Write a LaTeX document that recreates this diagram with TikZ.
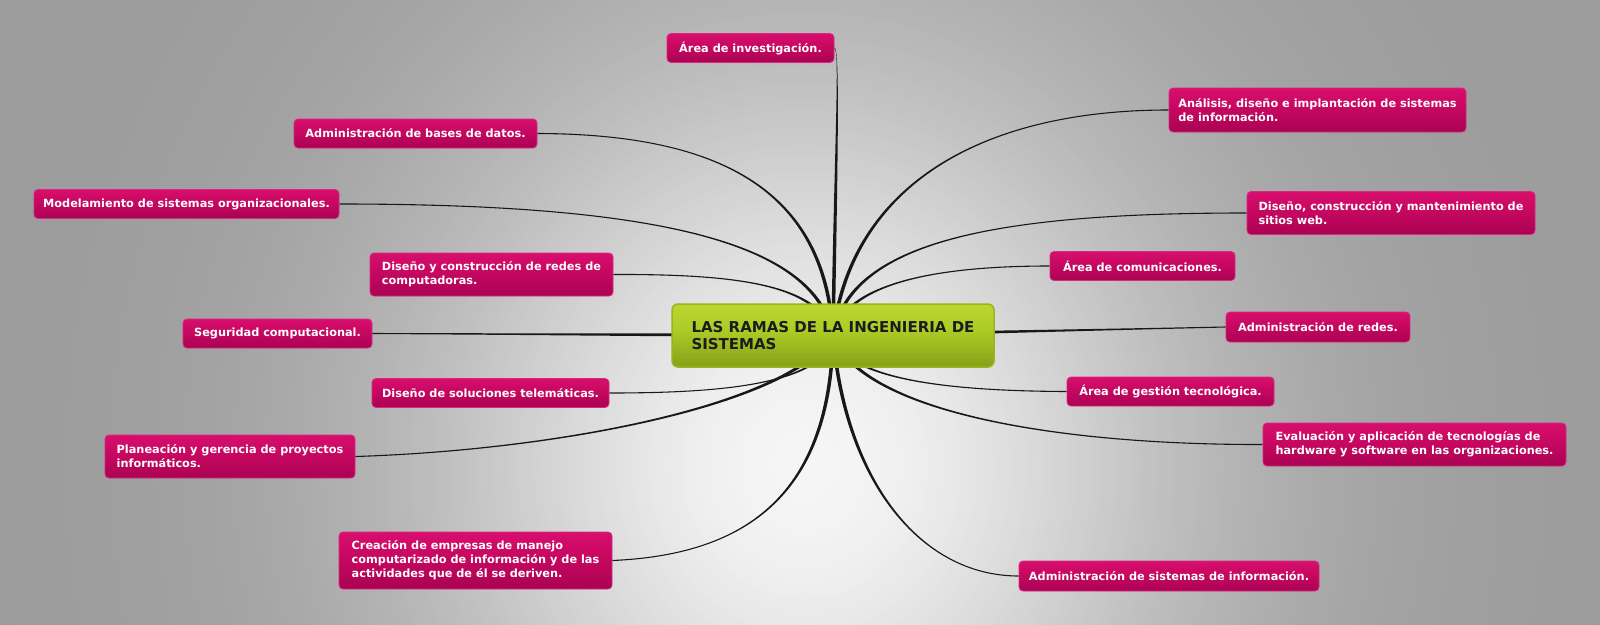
\documentclass[tikz,border=0pt]{standalone}
\usepackage{fontspec}
\setmainfont{DejaVu Sans}
\usetikzlibrary{calc}
\pgfdeclarelayer{bg}
\pgfdeclarelayer{edges}
\pgfsetlayers{bg,edges,main}

\definecolor{bgG}{RGB}{156,156,156}

\definecolor{pinktop}{RGB}{236,22,124}
\definecolor{pinkmid}{RGB}{200,8,98}
\definecolor{pinkdark}{RGB}{160,0,78}
\definecolor{pinkbot}{RGB}{212,22,110}
\definecolor{pinkborder}{RGB}{216,40,128}

\definecolor{gtop}{RGB}{204,226,58}
\definecolor{gmid}{RGB}{174,204,38}
\definecolor{gdark}{RGB}{126,150,22}
\definecolor{gbot}{RGB}{184,212,44}
\definecolor{gborder}{RGB}{150,182,30}
\definecolor{conncol}{RGB}{24,24,24}
\definecolor{ctext}{RGB}{28,28,28}

\pgfdeclareverticalshading{pinkgrad}{100bp}{%
  color(0bp)=(pinkbot); color(14bp)=(pinkdark); color(55bp)=(pinkmid); color(100bp)=(pinktop)}
\pgfdeclareverticalshading{greengrad}{100bp}{%
  color(0bp)=(gbot); color(18bp)=(gdark); color(55bp)=(gmid); color(100bp)=(gtop)}

\tikzset{
  pk/.style={rectangle, rounded corners=4pt, draw=pinkborder, line width=0.8pt,
    shading=pinkgrad, text=white, align=left, inner sep=0pt,
    font=\fontsize{11.3}{14}\selectfont\bfseries},
  hub/.style={rectangle, rounded corners=6pt, draw=gborder, line width=1.5pt,
    shading=greengrad, text=ctext, align=left, inner sep=0pt,
    font=\fontsize{15}{17}\selectfont\bfseries},
  conn/.style={fill=conncol}
}

\newcommand\taperline[4]{%
  \coordinate (tp0) at (#1);
  \coordinate (tp1) at (#2);
  \coordinate (tp2) at (#3);
  \coordinate (tp3) at (#4);
  \coordinate (ta0) at ($(tp0)!0.55pt!90:(tp1)$);
  \coordinate (tb0) at ($(tp0)!0.55pt!-90:(tp1)$);
  \coordinate (ta3) at ($(tp3)!1.8pt!-90:(tp2)$);
  \coordinate (tb3) at ($(tp3)!1.8pt!90:(tp2)$);
  \fill[conn] (ta0) .. controls ($(tp1)+(ta0)-(tp0)$) and ($(tp2)+(ta3)-(tp3)$) .. (ta3)
     -- (tb3) .. controls ($(tp2)+(tb3)-(tp3)$) and ($(tp1)+(tb0)-(tp0)$) .. (tb0) -- cycle;
}

\begin{document}
\begin{tikzpicture}[x=1pt,y=-1pt]
\useasboundingbox (0,0) rectangle (1600,624);
\begin{pgfonlayer}{bg}
  \begin{scope}
    \clip (0,0) rectangle (1600,624);
    \fill[bgG] (0,0) rectangle (1600,624);
    \foreach \i in {1,...,131}{
      \pgfmathsetmacro\s{1.32-(\i-1)*0.01}
      \pgfmathtruncatemacro\g{156+90*exp(-4.6*\s*\s)}
      \definecolor{bgtmp}{RGB}{\g,\g,\g}
      \fill[bgtmp] (805,465) ellipse [x radius=820*\s, y radius=887*\s];
    }
  \end{scope}
\end{pgfonlayer}

% central node
\node[hub, minimum width=322pt, minimum height=63pt] (c) at (833,335.5)
  {LAS RAMAS DE LA INGENIERIA DE\\SISTEMAS};

% left side
\node[pk, minimum width=167pt, minimum height=29pt] (inv) at (750.5,48) {Área de investigación.};
\node[pk, minimum width=243pt, minimum height=29pt] (bd) at (415.5,133.5) {Administración de bases de datos.};
\node[pk, minimum width=305pt, minimum height=29pt] (mod) at (186.5,204) {Modelamiento de sistemas organizacionales.};
\node[pk, minimum width=243pt, minimum height=43pt] (redes) at (491.5,274.5) {Diseño y construcción de redes de\\computadoras.};
\node[pk, minimum width=189pt, minimum height=29pt] (seg) at (277.5,333.5) {Seguridad computacional.};
\node[pk, minimum width=237pt, minimum height=29pt] (tel) at (490.5,393) {Diseño de soluciones telemáticas.};
\node[pk, minimum width=250pt, minimum height=43pt] (plan) at (230,456.5) {Planeación y gerencia de proyectos\\informáticos.};
\node[pk, minimum width=273pt, minimum height=57pt] (crea) at (475.5,560.5) {Creación de empresas de manejo\\computarizado de información y de las\\actividades que de él se deriven.};

% right side
\node[pk, minimum width=297pt, minimum height=44pt] (anal) at (1317.5,110) {Análisis, diseño e implantación de sistemas\\de información.};
\node[pk, minimum width=288pt, minimum height=43pt] (web) at (1391,213) {Diseño, construcción y mantenimiento de\\sitios web.};
\node[pk, minimum width=185pt, minimum height=29pt] (com) at (1142.5,266) {Área de comunicaciones.};
\node[pk, minimum width=184pt, minimum height=30pt] (adr) at (1318,327) {Administración de redes.};
\node[pk, minimum width=207pt, minimum height=29pt] (ges) at (1170.5,391.5) {Área de gestión tecnológica.};
\node[pk, minimum width=303pt, minimum height=43pt] (eva) at (1414.5,444.5) {Evaluación y aplicación de tecnologías de\\hardware y software en las organizaciones.};
\node[pk, minimum width=300pt, minimum height=30pt] (asi) at (1169,576) {Administración de sistemas de información.};

\begin{pgfonlayer}{edges}
  % top
  \taperline{inv.east}{840,48}{836,150}{c.center}
  \taperline{bd.east}{720,134}{825,190}{c.center}
  \taperline{mod.east}{650,204}{815,240}{c.center}
  \taperline{redes.east}{740,274}{820,285}{c.center}
  \taperline{anal.west}{975,110}{850,190}{c.center}
  \taperline{web.west}{1000,213}{850,240}{c.center}
  \taperline{com.west}{930,266}{845,285}{c.center}
  % horizontal
  \taperline{seg.east}{$(seg.east)!0.33!(c.center)$}{$(seg.east)!0.66!(c.center)$}{c.center}
  \taperline{adr.west}{$(adr.west)!0.33!(c.center)$}{$(adr.west)!0.66!(c.center)$}{c.center}
  % bottom
  \taperline{tel.east}{720,393}{825,385}{c.center}
  \taperline{plan.east}{560,450}{790,405}{c.center}
  \taperline{crea.east}{740,555}{830,500}{c.center}
  \taperline{ges.west}{950,391}{845,380}{c.center}
  \taperline{eva.west}{1050,445}{860,410}{c.center}
  \taperline{asi.west}{920,576}{845,480}{c.center}
\end{pgfonlayer}
\end{tikzpicture}
\end{document}
